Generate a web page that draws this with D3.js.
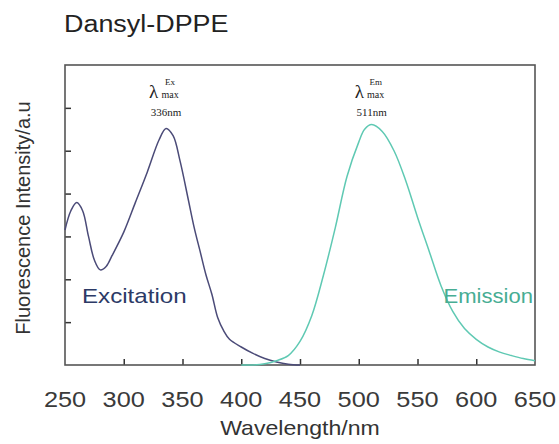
<!DOCTYPE html>
<html>
<head>
<meta charset="utf-8">
<script src="https://cdn.jsdelivr.net/npm/d3@7"></script>
<style>
  body { margin: 0; background: #fff; }
  text { font-family: "Liberation Sans", Arial, sans-serif; }
</style>
</head>
<body>
<div id="canvas"></div>
<script>
// excitation spectrum
const exWave = [250, 255, 260, 265, 270, 275, 280, 285, 290, 300, 310, 320, 330, 336, 342, 348, 355, 360, 365, 370, 375, 380, 385, 390, 400, 410, 420, 430, 440, 450];
const exValue = [3.15, 3.6, 3.79, 3.6, 3.0, 2.45, 2.22, 2.3, 2.55, 3.1, 3.8, 4.5, 5.25, 5.52, 5.35, 4.75, 3.85, 3.2, 2.65, 2.1, 1.65, 1.1, 0.8, 0.6, 0.42, 0.27, 0.15, 0.07, 0.02, 0];

// emission spectrum
const emWave = [400, 410, 420, 430, 440, 450, 460, 470, 480, 490, 500, 505, 511, 520, 530, 540, 550, 560, 570, 580, 590, 600, 610, 620, 630, 640, 650];
const emValue = [0, 0, 0.03, 0.1, 0.22, 0.55, 1.15, 2.1, 3.2, 4.4, 5.2, 5.5, 5.61, 5.45, 5.0, 4.3, 3.45, 2.65, 1.85, 1.25, 0.85, 0.6, 0.42, 0.3, 0.22, 0.15, 0.1];

const xTicks = [250, 300, 350, 400, 450, 500, 550, 600, 650];
const yTicks = [1, 2, 3, 4, 5, 6];

const width = 559;
const height = 444;
const margin = { top: 65, left: 65, bottom: 79, right: 24 };
const iwidth = width - margin.left - margin.right;
const iheight = height - margin.top - margin.bottom;

const svg = d3.select("#canvas").append("svg")
  .attr("width", width)
  .attr("height", height);

// widen text a bit, the scan is stretched horizontally
const stretch = (sel, k) => sel.each(function () {
  const len = this.getComputedTextLength();
  d3.select(this).attr("textLength", len * k).attr("lengthAdjust", "spacingAndGlyphs");
});

svg.append("text")
  .attr("x", 64).attr("y", 32)
  .attr("font-size", 23)
  .attr("fill", "#222")
  .text("Dansyl-DPPE")
  .call(stretch, 1.17);

const g = svg.append("g").attr("transform", `translate(${margin.left},${margin.top})`);

const x = d3.scaleLinear().domain([250, 650]).range([0, iwidth]);
const y = d3.scaleLinear().domain([0, 7]).range([iheight, 0]);

// inward ticks
g.append("g")
  .attr("transform", `translate(0,${iheight})`)
  .call(d3.axisBottom(x).tickValues(xTicks.slice(1, -1)).tickSize(-6).tickFormat(""))
  .call(a => a.select(".domain").remove())
  .selectAll("line").attr("stroke", "#333").attr("stroke-width", 1.5);

g.append("g")
  .call(d3.axisLeft(y).tickValues(yTicks).tickSize(-6).tickFormat(""))
  .call(a => a.select(".domain").remove())
  .selectAll("line").attr("stroke", "#333").attr("stroke-width", 1.5);

g.append("rect")
  .attr("width", iwidth).attr("height", iheight)
  .attr("fill", "none")
  .attr("stroke", "#555")
  .attr("stroke-width", 1.6);

// tick labels
g.selectAll(".xlab").data(xTicks).enter().append("text")
  .attr("class", "xlab")
  .attr("x", d => x(d))
  .attr("y", iheight + 42)
  .attr("text-anchor", "middle")
  .attr("font-size", 22)
  .attr("fill", "#3a3a3a")
  .text(d => d)
  .call(stretch, 1.15);

svg.append("text")
  .attr("x", 300).attr("y", 435)
  .attr("text-anchor", "middle")
  .attr("font-size", 21)
  .attr("fill", "#333")
  .text("Wavelength/nm")
  .call(stretch, 1.1);

svg.append("text")
  .attr("transform", "translate(30,218) rotate(-90)")
  .attr("text-anchor", "middle")
  .attr("font-size", 20)
  .attr("fill", "#333")
  .text("Fluorescence Intensity/a.u");

const line = d3.line()
  .x(d => x(d[0]))
  .y(d => y(d[1]))
  .curve(d3.curveCatmullRom.alpha(0.5));

g.append("path")
  .datum(d3.zip(exWave, exValue))
  .attr("fill", "none")
  .attr("stroke", "#4b4b78")
  .attr("stroke-width", 1.5)
  .attr("d", line);

g.append("path")
  .datum(d3.zip(emWave, emValue))
  .attr("fill", "none")
  .attr("stroke", "#5fc9b3")
  .attr("stroke-width", 1.5)
  .attr("d", line);

g.append("text")
  .attr("x", 17).attr("y", 238)
  .attr("font-size", 21)
  .attr("fill", "#2c3a66")
  .text("Excitation")
  .call(stretch, 1.15);

g.append("text")
  .attr("x", iwidth - 2).attr("y", 238)
  .attr("text-anchor", "end")
  .attr("font-size", 21)
  .attr("fill", "#47ad93")
  .text("Emission")
  .call(stretch, 1.05);

// lambda max labels
const peaks = [
  { w: 336, sup: "Ex", nm: "336nm" },
  { w: 511, sup: "Em", nm: "511nm" }
];
const pl = g.selectAll(".peak").data(peaks).enter().append("g")
  .attr("class", "peak")
  .attr("transform", d => `translate(${x(d.w)},0)`)
  .attr("fill", "#222");

pl.append("text")
  .attr("x", -17).attr("y", 33)
  .attr("font-size", 19)
  .style("font-family", "'Liberation Serif', serif")
  .text("λ");
pl.append("text")
  .attr("x", 4).attr("y", 20)
  .attr("text-anchor", "middle")
  .attr("font-size", 9)
  .style("font-family", "'Liberation Serif', serif")
  .text(d => d.sup);
pl.append("text")
  .attr("x", 4).attr("y", 33)
  .attr("text-anchor", "middle")
  .attr("font-size", 10)
  .style("font-family", "'Liberation Serif', serif")
  .text("max");
pl.append("text")
  .attr("x", 0).attr("y", 51)
  .attr("text-anchor", "middle")
  .attr("font-size", 11)
  .style("font-family", "'Liberation Serif', serif")
  .text(d => d.nm);
</script>
</body>
</html>
